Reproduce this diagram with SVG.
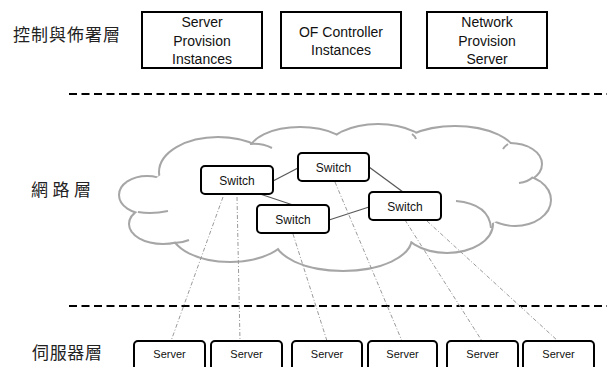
<svg xmlns="http://www.w3.org/2000/svg" width="607" height="367" viewBox="0 0 607 367">
  <style>
    .layer { font-family: "Noto Sans CJK TC", "Noto Sans CJK SC", sans-serif; font-size: 17px; fill: #222; }
    .lbl { font-family: "Liberation Sans", Arial, sans-serif; fill: #111; text-anchor: middle; }
    .top { font-size: 14px; }
    .sw { font-size: 12px; }
    .srv { font-size: 11px; }
    .topbox { fill: #fff; stroke: #000; stroke-width: 2; }
    .node { fill: #fff; stroke: #000; stroke-width: 2; }
    .divider { stroke: #000; stroke-width: 2; stroke-dasharray: 8 4.5; fill: none; }
    .bumpline { fill: none; stroke: #a6a6a6; stroke-width: 4; }
    .bumpfill { fill: #fff; stroke: none; }
    .inner { fill: none; stroke: #a6a6a6; stroke-width: 2; }
    .link { stroke: #595959; stroke-width: 1.3; fill: none; }
    .uplink { stroke: #9a9a9a; stroke-width: 1; stroke-dasharray: 4 2 1 2; fill: none; }
  </style>
  <defs>
    <!-- lobes of the network cloud; drawn twice: stroked, then filled to keep only the outer edge -->
    <g id="lobes">
      <ellipse cx="147" cy="195" rx="27" ry="18"/>
      <ellipse cx="163" cy="224" rx="33" ry="19"/>
      <ellipse cx="230" cy="231" rx="58" ry="30"/>
      <ellipse cx="343" cy="238" rx="68" ry="32"/>
      <ellipse cx="447" cy="224" rx="45" ry="28"/>
      <ellipse cx="515" cy="200" rx="35" ry="25"/>
      <ellipse cx="510" cy="164" rx="31" ry="20"/>
      <ellipse cx="455" cy="155" rx="60" ry="28"/>
      <ellipse cx="378" cy="150" rx="50" ry="25"/>
      <ellipse cx="300" cy="152" rx="50" ry="24"/>
      <ellipse cx="218" cy="172" rx="58" ry="34"/>
    </g>
  </defs>

  <rect width="607" height="367" fill="#fff"/>

  <!-- layer titles -->
  <text class="layer" x="13" y="41" textLength="107" lengthAdjust="spacing">控制與佈署層</text>
  <text class="layer" x="31" y="196" textLength="60" lengthAdjust="spacing">網路層</text>
  <text class="layer" x="32" y="359" textLength="70" lengthAdjust="spacing">伺服器層</text>

  <!-- layer dividers -->
  <line class="divider" x1="69" y1="94" x2="607" y2="94"/>
  <line class="divider" x1="69" y1="306" x2="607" y2="306"/>

  <!-- control and deployment layer -->
  <g id="server-provision">
    <rect class="topbox" x="142" y="12" width="120" height="56"/>
    <text class="lbl top" x="202" y="27">Server</text>
    <text class="lbl top" x="202" y="45.5">Provision</text>
    <text class="lbl top" x="202" y="64">Instances</text>
  </g>
  <g id="of-controller">
    <rect class="topbox" x="281" y="12" width="120" height="56"/>
    <text class="lbl top" x="341" y="37">OF Controller</text>
    <text class="lbl top" x="341" y="55">Instances</text>
  </g>
  <g id="network-provision">
    <rect class="topbox" x="427" y="12" width="120" height="56"/>
    <text class="lbl top" x="487" y="27">Network</text>
    <text class="lbl top" x="487" y="45.5">Provision</text>
    <text class="lbl top" x="487" y="64">Server</text>
  </g>

  <!-- network cloud -->
  <g id="cloud">
    <use href="#lobes" class="bumpline"/>
    <use href="#lobes" class="bumpfill"/>
    <ellipse class="bumpfill" cx="335" cy="195" rx="190" ry="50"/>
    <path class="inner" d="M138,212 Q152,214.5 168,211"/>
    <path class="inner" d="M174,243 Q182,243 189,240"/>
    <path class="inner" d="M491,228 Q489,204 456,201"/>
    <path class="inner" d="M533,177 Q528,182 519,183"/>
    <path class="inner" d="M250,144 Q262,143 272,148"/>
    <path class="inner" d="M508,144 Q505,146 503,149"/>
    <path class="inner" d="M412,134 Q415,136 416,139"/>
  </g>

  <!-- connectors -->
  <g id="connectors">
    <line class="link" x1="273" y1="181" x2="298" y2="168"/>
    <line class="link" x1="257" y1="193" x2="293" y2="205"/>
    <line class="link" x1="369" y1="167" x2="403" y2="192"/>
    <line class="link" x1="329" y1="220" x2="369" y2="207"/>
    <line class="uplink" x1="223" y1="197" x2="171" y2="341"/>
    <line class="uplink" x1="237" y1="197" x2="240" y2="341"/>
    <line class="uplink" x1="293" y1="234" x2="327" y2="341"/>
    <line class="uplink" x1="335" y1="182" x2="402" y2="341"/>
    <line class="uplink" x1="405" y1="220" x2="482" y2="341"/>
    <line class="uplink" x1="427" y1="221" x2="558" y2="341"/>
  </g>

  <!-- switches -->
  <g id="switch-1">
    <rect class="node" x="201" y="166" width="72" height="28" rx="4"/>
    <text class="lbl sw" x="237" y="184.5">Switch</text>
  </g>
  <g id="switch-2">
    <rect class="node" x="298" y="153" width="71" height="28" rx="4"/>
    <text class="lbl sw" x="333.5" y="171.5">Switch</text>
  </g>
  <g id="switch-3">
    <rect class="node" x="257" y="205" width="72" height="28" rx="4"/>
    <text class="lbl sw" x="293" y="223.5">Switch</text>
  </g>
  <g id="switch-4">
    <rect class="node" x="369" y="192" width="72" height="28" rx="4"/>
    <text class="lbl sw" x="405" y="210.5">Switch</text>
  </g>

  <!-- server layer -->
  <g id="server-1">
    <rect class="node" x="134" y="341" width="71" height="34" rx="4"/>
    <text class="lbl srv" x="169.5" y="358">Server</text>
  </g>
  <g id="server-2">
    <rect class="node" x="211" y="341" width="71" height="34" rx="4"/>
    <text class="lbl srv" x="246.5" y="358">Server</text>
  </g>
  <g id="server-3">
    <rect class="node" x="292" y="341" width="70" height="34" rx="4"/>
    <text class="lbl srv" x="327" y="358">Server</text>
  </g>
  <g id="server-4">
    <rect class="node" x="368" y="341" width="69" height="34" rx="4"/>
    <text class="lbl srv" x="402.5" y="358">Server</text>
  </g>
  <g id="server-5">
    <rect class="node" x="447" y="341" width="71" height="34" rx="4"/>
    <text class="lbl srv" x="482.5" y="358">Server</text>
  </g>
  <g id="server-6">
    <rect class="node" x="523" y="341" width="71" height="34" rx="4"/>
    <text class="lbl srv" x="558.5" y="358">Server</text>
  </g>
</svg>
